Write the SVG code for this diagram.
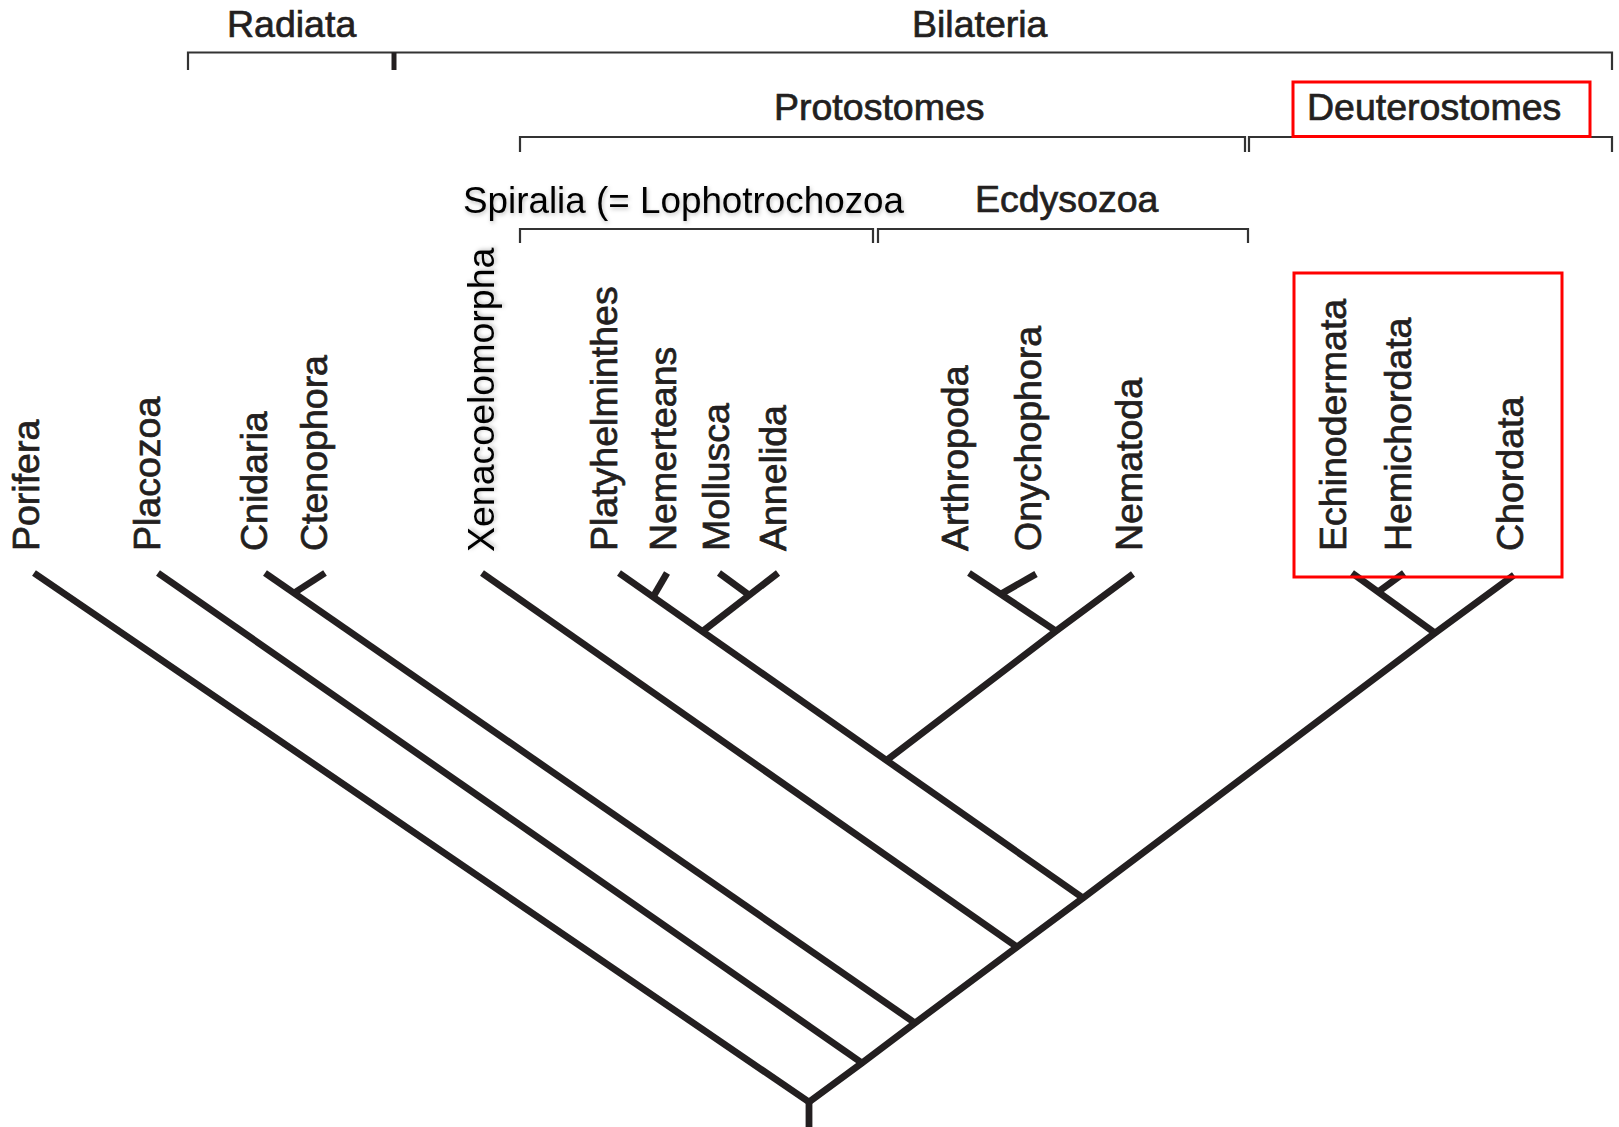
<svg xmlns="http://www.w3.org/2000/svg" width="1619" height="1127" viewBox="0 0 1619 1127">
<style>
.lbl{font-family:"Liberation Sans",Arial,Helvetica,sans-serif;font-size:37.5px;fill:#231f20;stroke:#231f20;stroke-width:0.7}
.plain{font-family:"Liberation Sans",Arial,Helvetica,sans-serif;font-size:37.5px;fill:#000;filter:url(#sh)}
.br{fill:none;stroke:#333;stroke-width:2.2}
.tree{fill:none;stroke:#231f20;stroke-width:6.8;stroke-linecap:butt;stroke-linejoin:miter}
.hl{fill:none;stroke:#ff0000;stroke-width:3}
</style>
<defs>
<filter id="sh" x="-5%" y="-20%" width="110%" height="150%">
<feDropShadow dx="1" dy="2" stdDeviation="2" flood-color="#000" flood-opacity="0.25"/>
</filter>
</defs>
<rect width="1619" height="1127" fill="#fff"/>

<g id="connectors">
  <g id="brackets">
    <path class="br" d="M188 70V52.5H1612V70"/>
    <path d="M394 52.5V70" stroke="#231f20" stroke-width="5" fill="none"/>
    <path class="br" d="M520 152V137H1245V152"/>
    <path class="br" d="M1249 152V137H1612V152"/>
    <path class="br" d="M520 243V229H873V243"/>
    <path class="br" d="M878 243V229H1248V243"/>
  </g>
  <g id="tree">
    <path class="tree" d="M809 1127V1102" stroke-width="9"/>
    <polyline class="tree" points="809,1102 862,1063 915,1023 1017,947 1083,898 1435,633 1514,575"/>
    <line class="tree" x1="809" y1="1102" x2="34" y2="573"/>
    <line class="tree" x1="862" y1="1063" x2="158" y2="573"/>
    <line class="tree" x1="915" y1="1023" x2="265" y2="573"/>
    <line class="tree" x1="294" y1="593" x2="325" y2="573"/>
    <line class="tree" x1="1017" y1="947" x2="482" y2="573"/>
    <line class="tree" x1="1083" y1="898" x2="619" y2="573"/>
    <line class="tree" x1="653" y1="597" x2="667" y2="573"/>
    <line class="tree" x1="703" y1="631" x2="778" y2="573"/>
    <line class="tree" x1="749" y1="595" x2="719" y2="573"/>
    <polyline class="tree" points="887,760 1056,631 1133,574"/>
    <line class="tree" x1="1056" y1="631" x2="969" y2="573"/>
    <line class="tree" x1="1001" y1="594" x2="1036" y2="574"/>
    <line class="tree" x1="1435" y1="633" x2="1352" y2="573"/>
    <line class="tree" x1="1378" y1="592" x2="1404" y2="573"/>
  </g>
</g>

<g id="clade-radiata"><text class="lbl" x="227" y="37">Radiata</text></g>
<g id="clade-bilateria"><text class="lbl" x="912" y="37">Bilateria</text></g>
<g id="clade-protostomes"><text class="lbl" x="774" y="120">Protostomes</text></g>
<g id="clade-deuterostomes"><text class="lbl" x="1307" y="120">Deuterostomes</text></g>
<g id="clade-spiralia"><text class="plain" x="463" y="213" textLength="441" lengthAdjust="spacingAndGlyphs">Spiralia (= Lophotrochozoa</text></g>
<g id="clade-ecdysozoa"><text class="lbl" x="975" y="212">Ecdysozoa</text></g>

<g id="taxon-porifera"><text class="lbl" transform="translate(39,551) rotate(-90)">Porifera</text></g>
<g id="taxon-placozoa"><text class="lbl" transform="translate(160,551) rotate(-90)">Placozoa</text></g>
<g id="taxon-cnidaria"><text class="lbl" transform="translate(267,551) rotate(-90)">Cnidaria</text></g>
<g id="taxon-ctenophora"><text class="lbl" transform="translate(327,551) rotate(-90)">Ctenophora</text></g>
<g id="taxon-xenacoelomorpha"><text class="plain" transform="translate(494,552) rotate(-90)">Xenacoelomorpha</text></g>
<g id="taxon-platyhelminthes"><text class="lbl" transform="translate(617,551) rotate(-90)">Platyhelminthes</text></g>
<g id="taxon-nemerteans"><text class="lbl" transform="translate(676,551) rotate(-90)">Nemerteans</text></g>
<g id="taxon-mollusca"><text class="lbl" transform="translate(729,551) rotate(-90)">Mollusca</text></g>
<g id="taxon-annelida"><text class="lbl" transform="translate(786,551) rotate(-90)">Annelida</text></g>
<g id="taxon-arthropoda"><text class="lbl" transform="translate(968,551) rotate(-90)">Arthropoda</text></g>
<g id="taxon-onychophora"><text class="lbl" transform="translate(1041,551) rotate(-90)">Onychophora</text></g>
<g id="taxon-nematoda"><text class="lbl" transform="translate(1142,551) rotate(-90)">Nematoda</text></g>
<g id="taxon-echinodermata"><text class="lbl" transform="translate(1346,551) rotate(-90)">Echinodermata</text></g>
<g id="taxon-hemichordata"><text class="lbl" transform="translate(1411,551) rotate(-90)">Hemichordata</text></g>
<g id="taxon-chordata"><text class="lbl" transform="translate(1523,551) rotate(-90)">Chordata</text></g>

<g id="highlights">
  <rect class="hl" x="1293" y="82" width="297" height="54.5"/>
  <rect class="hl" x="1294" y="273" width="268" height="304"/>
</g>
</svg>
